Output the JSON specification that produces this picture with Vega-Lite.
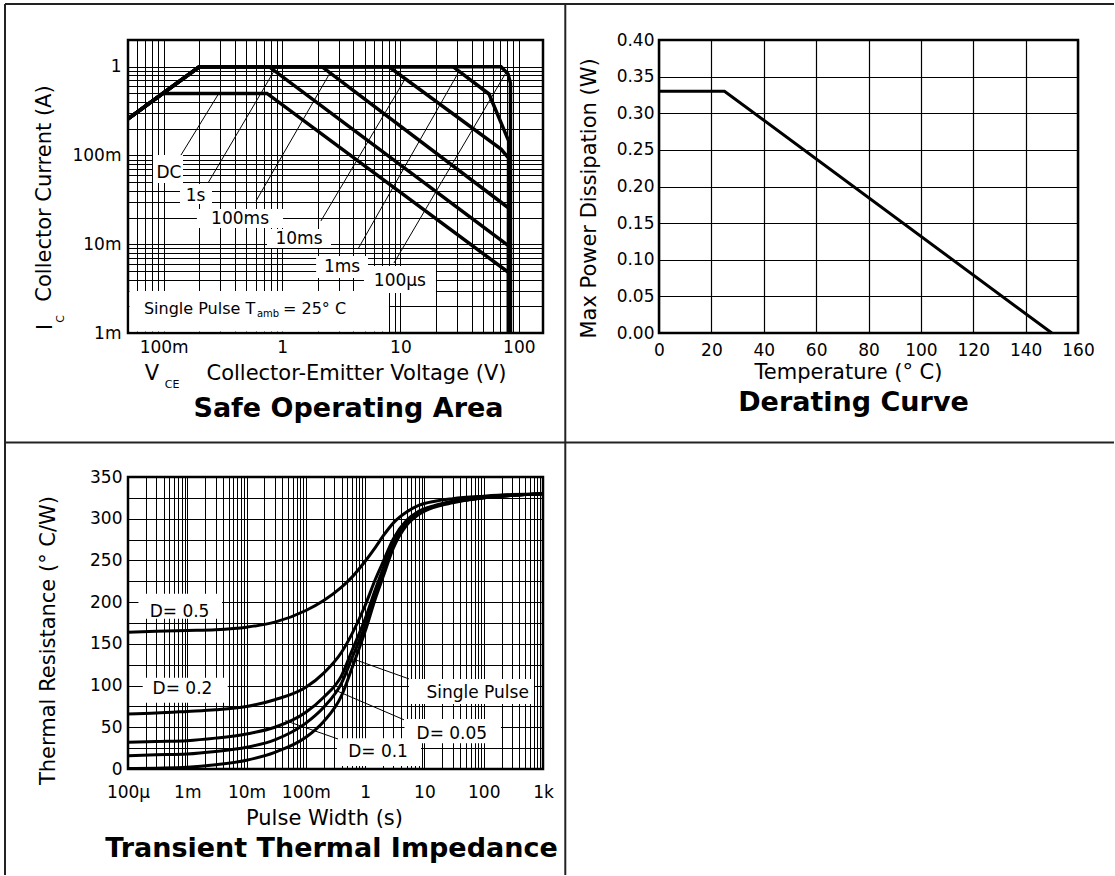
{
  "$schema": "https://vega.github.io/schema/vega-lite/v6.json",
  "background": "white",
  "padding": {"left": 2, "top": 1, "right": 0, "bottom": 0},
  "autosize": {"type": "pad"},
  "bounds": "flush",
  "columns": 2,
  "spacing": {"row": 144, "column": 116},
  "config": {
    "view": {"stroke": "black", "strokeWidth": 2.5},
    "font": "DejaVu Sans",
    "axis": {
      "ticks": false, "tickSize": 0, "domain": false, "grid": true,
      "gridColor": "black", "gridOpacity": 1, "gridWidth": 1,
      "labelFont": "DejaVu Sans", "labelFontSize": 17, "labelColor": "black",
      "titleFont": "DejaVu Sans", "titleFontSize": 21, "titleFontWeight": "normal", "titleColor": "black",
      "labelOverlap": false, "labelFlush": false, "labelBound": false
    },
    "title": {"font": "DejaVu Sans", "fontSize": 27, "fontWeight": "bold", "color": "black", "orient": "bottom"},
    "text": {"font": "DejaVu Sans", "color": "black"}
  },
  "datasets": {
    "soa": [
      {"curve": "DC", "k": 0, "x": 0.05, "y": 0.258},
      {"curve": "DC", "k": 1, "x": 0.098, "y": 0.5},
      {"curve": "DC", "k": 2, "x": 0.746, "y": 0.5},
      {"curve": "DC", "k": 3, "x": 82, "y": 0.0048},
      {"curve": "DC", "k": 4, "x": 82, "y": 0.001},
      {"curve": "1s", "k": 0, "x": 0.05, "y": 0.258},
      {"curve": "1s", "k": 1, "x": 0.2, "y": 1},
      {"curve": "1s", "k": 2, "x": 0.776, "y": 1},
      {"curve": "1s", "k": 3, "x": 82, "y": 0.0096},
      {"curve": "1s", "k": 4, "x": 82, "y": 0.001},
      {"curve": "100ms", "k": 0, "x": 0.05, "y": 0.258},
      {"curve": "100ms", "k": 1, "x": 0.2, "y": 1},
      {"curve": "100ms", "k": 2, "x": 2.17, "y": 1},
      {"curve": "100ms", "k": 3, "x": 82, "y": 0.0256},
      {"curve": "100ms", "k": 4, "x": 82, "y": 0.001},
      {"curve": "10ms", "k": 0, "x": 0.05, "y": 0.258},
      {"curve": "10ms", "k": 1, "x": 0.2, "y": 1},
      {"curve": "10ms", "k": 2, "x": 8.0, "y": 1},
      {"curve": "10ms", "k": 3, "x": 70.7, "y": 0.118},
      {"curve": "10ms", "k": 4, "x": 82, "y": 0.0937},
      {"curve": "10ms", "k": 5, "x": 82, "y": 0.001},
      {"curve": "1ms", "k": 0, "x": 0.05, "y": 0.258},
      {"curve": "1ms", "k": 1, "x": 0.2, "y": 1},
      {"curve": "1ms", "k": 2, "x": 27.8, "y": 1},
      {"curve": "1ms", "k": 3, "x": 56, "y": 0.493},
      {"curve": "1ms", "k": 4, "x": 82, "y": 0.146},
      {"curve": "1ms", "k": 5, "x": 82, "y": 0.001},
      {"curve": "100us", "k": 0, "x": 0.05, "y": 0.258},
      {"curve": "100us", "k": 1, "x": 0.2, "y": 1},
      {"curve": "100us", "k": 2, "x": 70.7, "y": 1},
      {"curve": "100us", "k": 3, "x": 81, "y": 0.83},
      {"curve": "100us", "k": 4, "x": 85, "y": 0.65},
      {"curve": "100us", "k": 5, "x": 85, "y": 0.001}
    ],
    "soaLeaders": [
      {"x": 0.14, "y": 0.101, "x2": 0.294, "y2": 0.506},
      {"x": 0.237, "y": 0.049, "x2": 0.85, "y2": 0.88},
      {"x": 0.603, "y": 0.0307, "x2": 2.54, "y2": 0.85},
      {"x": 2.13, "y": 0.0183, "x2": 10.9, "y2": 0.72},
      {"x": 4.38, "y": 0.00884, "x2": 31, "y2": 0.87},
      {"x": 8.82, "y": 0.00615, "x2": 78, "y2": 0.86}
    ],
    "soaBoxes": [
      {"x": 0.0813, "x2": 0.1457, "y": 0.049, "y2": 0.101},
      {"x": 0.1375, "x2": 0.256, "y": 0.0284, "y2": 0.0477},
      {"x": 0.191, "x2": 1.02, "y": 0.0152, "y2": 0.0249},
      {"x": 0.746, "x2": 2.59, "y": 0.00908, "y2": 0.01485},
      {"x": 1.94, "x2": 5.32, "y": 0.00417, "y2": 0.00737},
      {"x": 4.92, "x2": 19.95, "y": 0.00282, "y2": 0.00569},
      {"x": 0.0515, "x2": 8.0, "y": 0.00104, "y2": 0.00297}
    ],
    "soaLabels": [
      {"x": 0.111, "y": 0.0635, "label": "DC"},
      {"x": 0.186, "y": 0.035, "label": "1s"},
      {"x": 0.442, "y": 0.0192, "label": "100ms"},
      {"x": 1.39, "y": 0.01146, "label": "10ms"},
      {"x": 3.21, "y": 0.00555, "label": "1ms"},
      {"x": 9.9, "y": 0.00385, "label": "100µs"}
    ],
    "soaNote": [
      {"x": 0.0682, "y": 0.00186, "label": "Single Pulse T"},
      {"x": 1.019, "y": 0.00186, "label": "= 25° C"}
    ],
    "soaNoteSub": [
      {"x": 0.614, "y": 0.00163, "label": "amb"}
    ],
    "soaTitleY": [
      {"x": 0.01015, "y": 0.001168, "label": "I"}
    ],
    "soaSubY": [
      {"x": 0.01358, "y": 0.001438, "label": "C"}
    ],
    "soaTitleX": [
      {"x": 0.0797, "y": 0.0003496, "label": "V"}
    ],
    "soaSubX": [
      {"x": 0.1177, "y": 0.0002595, "label": "CE"}
    ],
    "frame": [
      {"x": 8.42e-7, "x2": 4.278e12, "y": 916.95, "y2": 916.95},
      {"x": 8.42e-7, "x2": 4.278e12, "y": 391.35, "y2": 391.35},
      {"x": 8.42e-7, "x2": 8.42e-7, "y": 916.95, "y2": -127.05},
      {"x": 2377, "x2": 2377, "y": 916.95, "y2": -127.05}
    ],
    "derating": [
      {"x": 0, "y": 0.33},
      {"x": 25, "y": 0.33},
      {"x": 150, "y": 0}
    ],
    "trans": [
      {"curve": "Single Pulse", "x": 0.0001, "y": 0.5},
      {"curve": "Single Pulse", "x": 0.0003, "y": 1},
      {"curve": "Single Pulse", "x": 0.001, "y": 2},
      {"curve": "Single Pulse", "x": 0.003, "y": 5},
      {"curve": "Single Pulse", "x": 0.01, "y": 10.5},
      {"curve": "Single Pulse", "x": 0.03, "y": 20},
      {"curve": "Single Pulse", "x": 0.1, "y": 38},
      {"curve": "Single Pulse", "x": 0.2, "y": 57},
      {"curve": "Single Pulse", "x": 0.4, "y": 88},
      {"curve": "Single Pulse", "x": 0.6, "y": 121},
      {"curve": "Single Pulse", "x": 1, "y": 165},
      {"curve": "Single Pulse", "x": 1.5, "y": 205},
      {"curve": "Single Pulse", "x": 2, "y": 230},
      {"curve": "Single Pulse", "x": 3, "y": 265},
      {"curve": "Single Pulse", "x": 5, "y": 292},
      {"curve": "Single Pulse", "x": 8, "y": 305},
      {"curve": "Single Pulse", "x": 15, "y": 314},
      {"curve": "Single Pulse", "x": 30, "y": 319},
      {"curve": "Single Pulse", "x": 100, "y": 325},
      {"curve": "Single Pulse", "x": 300, "y": 328},
      {"curve": "Single Pulse", "x": 1000, "y": 330},
      {"curve": "D=0.05", "x": 0.0001, "y": 16},
      {"curve": "D=0.05", "x": 0.0003, "y": 17},
      {"curve": "D=0.05", "x": 0.001, "y": 18},
      {"curve": "D=0.05", "x": 0.003, "y": 21},
      {"curve": "D=0.05", "x": 0.01, "y": 26},
      {"curve": "D=0.05", "x": 0.03, "y": 35},
      {"curve": "D=0.05", "x": 0.1, "y": 55},
      {"curve": "D=0.05", "x": 0.2, "y": 74},
      {"curve": "D=0.05", "x": 0.4, "y": 103},
      {"curve": "D=0.05", "x": 0.6, "y": 133},
      {"curve": "D=0.05", "x": 1, "y": 172},
      {"curve": "D=0.05", "x": 1.5, "y": 210},
      {"curve": "D=0.05", "x": 2, "y": 235},
      {"curve": "D=0.05", "x": 3, "y": 268},
      {"curve": "D=0.05", "x": 5, "y": 294},
      {"curve": "D=0.05", "x": 8, "y": 306},
      {"curve": "D=0.05", "x": 15, "y": 315},
      {"curve": "D=0.05", "x": 30, "y": 320},
      {"curve": "D=0.05", "x": 100, "y": 325},
      {"curve": "D=0.05", "x": 300, "y": 328},
      {"curve": "D=0.05", "x": 1000, "y": 330},
      {"curve": "D=0.1", "x": 0.0001, "y": 32},
      {"curve": "D=0.1", "x": 0.0003, "y": 33},
      {"curve": "D=0.1", "x": 0.001, "y": 34},
      {"curve": "D=0.1", "x": 0.003, "y": 37},
      {"curve": "D=0.1", "x": 0.01, "y": 42},
      {"curve": "D=0.1", "x": 0.03, "y": 50},
      {"curve": "D=0.1", "x": 0.1, "y": 68},
      {"curve": "D=0.1", "x": 0.2, "y": 86},
      {"curve": "D=0.1", "x": 0.4, "y": 112},
      {"curve": "D=0.1", "x": 0.6, "y": 142},
      {"curve": "D=0.1", "x": 1, "y": 180},
      {"curve": "D=0.1", "x": 1.5, "y": 216},
      {"curve": "D=0.1", "x": 2, "y": 240},
      {"curve": "D=0.1", "x": 3, "y": 272},
      {"curve": "D=0.1", "x": 5, "y": 296},
      {"curve": "D=0.1", "x": 8, "y": 307},
      {"curve": "D=0.1", "x": 15, "y": 315},
      {"curve": "D=0.1", "x": 30, "y": 320},
      {"curve": "D=0.1", "x": 100, "y": 325},
      {"curve": "D=0.1", "x": 300, "y": 328},
      {"curve": "D=0.1", "x": 1000, "y": 330},
      {"curve": "D=0.2", "x": 0.0001, "y": 66},
      {"curve": "D=0.2", "x": 0.0003, "y": 67},
      {"curve": "D=0.2", "x": 0.001, "y": 69},
      {"curve": "D=0.2", "x": 0.003, "y": 71},
      {"curve": "D=0.2", "x": 0.01, "y": 75},
      {"curve": "D=0.2", "x": 0.03, "y": 83},
      {"curve": "D=0.2", "x": 0.1, "y": 98},
      {"curve": "D=0.2", "x": 0.2, "y": 115},
      {"curve": "D=0.2", "x": 0.4, "y": 140},
      {"curve": "D=0.2", "x": 0.6, "y": 162},
      {"curve": "D=0.2", "x": 1, "y": 196},
      {"curve": "D=0.2", "x": 1.5, "y": 228},
      {"curve": "D=0.2", "x": 2, "y": 248},
      {"curve": "D=0.2", "x": 3, "y": 276},
      {"curve": "D=0.2", "x": 5, "y": 298},
      {"curve": "D=0.2", "x": 8, "y": 309},
      {"curve": "D=0.2", "x": 15, "y": 316},
      {"curve": "D=0.2", "x": 30, "y": 321},
      {"curve": "D=0.2", "x": 100, "y": 326},
      {"curve": "D=0.2", "x": 300, "y": 328},
      {"curve": "D=0.2", "x": 1000, "y": 330},
      {"curve": "D=0.5", "x": 0.0001, "y": 164},
      {"curve": "D=0.5", "x": 0.0003, "y": 165},
      {"curve": "D=0.5", "x": 0.001, "y": 166},
      {"curve": "D=0.5", "x": 0.003, "y": 167},
      {"curve": "D=0.5", "x": 0.01, "y": 170},
      {"curve": "D=0.5", "x": 0.03, "y": 176},
      {"curve": "D=0.5", "x": 0.1, "y": 190},
      {"curve": "D=0.5", "x": 0.2, "y": 202},
      {"curve": "D=0.5", "x": 0.4, "y": 218},
      {"curve": "D=0.5", "x": 0.6, "y": 230},
      {"curve": "D=0.5", "x": 1, "y": 249},
      {"curve": "D=0.5", "x": 1.5, "y": 266},
      {"curve": "D=0.5", "x": 2, "y": 279},
      {"curve": "D=0.5", "x": 3, "y": 295},
      {"curve": "D=0.5", "x": 5, "y": 308},
      {"curve": "D=0.5", "x": 8, "y": 316},
      {"curve": "D=0.5", "x": 15, "y": 321},
      {"curve": "D=0.5", "x": 30, "y": 324},
      {"curve": "D=0.5", "x": 100, "y": 327},
      {"curve": "D=0.5", "x": 300, "y": 329},
      {"curve": "D=0.5", "x": 1000, "y": 330}
    ],
    "transBoxes": [
      {"x": 0.00015, "x2": 0.00385, "y": 180, "y2": 210},
      {"x": 0.000177, "x2": 0.00481, "y": 79.5, "y2": 109.5},
      {"x": 5.49, "x2": 704, "y": 78, "y2": 108},
      {"x": 4.61, "x2": 195, "y": 31, "y2": 60},
      {"x": 0.335, "x2": 8.75, "y": 3.6, "y2": 37}
    ],
    "transLeaders": [
      {"x": 0.62, "y": 132, "x2": 5.49, "y2": 108},
      {"x": 0.3, "y": 95, "x2": 4.52, "y2": 59},
      {"x": 0.045, "y": 58, "x2": 0.348, "y2": 36}
    ],
    "transLabels": [
      {"x": 0.00074, "y": 188, "label": "D= 0.5"},
      {"x": 0.00083, "y": 96, "label": "D= 0.2"},
      {"x": 79, "y": 91.5, "label": "Single Pulse"},
      {"x": 29, "y": 41.5, "label": "D= 0.05"},
      {"x": 1.65, "y": 20.4, "label": "D= 0.1"}
    ]
  },
  "concat": [
    {
      "width": 415,
      "height": 293,
      "title": {"text": "Safe Operating Area", "dx": 13, "offset": 6},
      "encoding": {
        "x": {
          "field": "x", "type": "quantitative",
          "scale": {"type": "log", "domain": [0.05, 160], "nice": false},
          "axis": {
            "values": [0.05, 0.06, 0.07, 0.08, 0.09, 0.1, 0.2, 0.3, 0.4, 0.5, 0.6, 0.7, 0.8, 0.9, 1, 2, 3, 4, 5, 6, 7, 8, 9, 10, 20, 30, 40, 50, 60, 70, 80, 90, 100],
            "labelExpr": "datum.value === 0.1 ? '100m' : datum.value === 1 ? '1' : datum.value === 10 ? '10' : datum.value === 100 ? '100' : ''",
            "labelPadding": 6,
            "title": "Collector-Emitter Voltage (V)",
            "titlePadding": 7,
            "titleX": 228
          }
        },
        "y": {
          "field": "y", "type": "quantitative",
          "scale": {"type": "log", "domain": [0.001, 2], "nice": false},
          "axis": {
            "values": [0.001, 0.002, 0.003, 0.004, 0.005, 0.006, 0.007, 0.008, 0.009, 0.01, 0.02, 0.03, 0.04, 0.05, 0.06, 0.07, 0.08, 0.09, 0.1, 0.2, 0.3, 0.4, 0.5, 0.6, 0.7, 0.8, 0.9, 1, 2],
            "labelExpr": "datum.value === 0.001 ? '1m' : datum.value === 0.01 ? '10m' : datum.value === 0.1 ? '100m' : datum.value === 1 ? '1' : ''",
            "labelPadding": 7,
            "title": "Collector Current (A)",
            "titlePadding": 17,
            "titleY": 153
          }
        }
      },
      "layer": [
        {"data": {"name": "soaBoxes"}, "mark": {"type": "rect", "fill": "white", "strokeWidth": 0, "clip": true}, "encoding": {"x2": {"field": "x2"}, "y2": {"field": "y2"}}},
        {"data": {"name": "soaLeaders"}, "mark": {"type": "rule", "color": "black", "strokeWidth": 1}, "encoding": {"x2": {"field": "x2"}, "y2": {"field": "y2"}}},
        {"data": {"name": "soa"}, "mark": {"type": "line", "color": "black", "strokeWidth": 3.5, "clip": true}, "encoding": {"detail": {"field": "curve"}, "order": {"field": "k", "type": "quantitative"}}},
        {"data": {"name": "soaLabels"}, "mark": {"type": "text", "fontSize": 17, "align": "center", "baseline": "middle"}, "encoding": {"text": {"field": "label"}}},
        {"data": {"name": "soaNote"}, "mark": {"type": "text", "fontSize": 16, "align": "left", "baseline": "middle"}, "encoding": {"text": {"field": "label"}}},
        {"data": {"name": "soaNoteSub"}, "mark": {"type": "text", "fontSize": 10, "align": "left", "baseline": "middle"}, "encoding": {"text": {"field": "label"}}},
        {"data": {"name": "soaTitleY"}, "mark": {"type": "text", "fontSize": 21, "align": "center", "baseline": "middle", "angle": 270, "clip": false}, "encoding": {"text": {"field": "label"}}},
        {"data": {"name": "soaSubY"}, "mark": {"type": "text", "fontSize": 11, "align": "center", "baseline": "middle", "angle": 270, "clip": false}, "encoding": {"text": {"field": "label"}}},
        {"data": {"name": "soaTitleX"}, "mark": {"type": "text", "fontSize": 21, "align": "center", "baseline": "middle", "clip": false}, "encoding": {"text": {"field": "label"}}},
        {"data": {"name": "soaSubX"}, "mark": {"type": "text", "fontSize": 11, "align": "center", "baseline": "middle", "clip": false}, "encoding": {"text": {"field": "label"}}}
      ]
    },
    {
      "width": 419,
      "height": 293,
      "title": {"text": "Derating Curve", "dx": -15, "offset": 8},
      "data": {"name": "derating"},
      "mark": {"type": "line", "color": "black", "strokeWidth": 3},
      "encoding": {
        "x": {
          "field": "x", "type": "quantitative",
          "scale": {"domain": [0, 160], "nice": false, "zero": false},
          "axis": {
            "values": [0, 20, 40, 60, 80, 100, 120, 140, 160],
            "labelPadding": 9,
            "title": "Temperature (° C)",
            "titlePadding": 3,
            "titleX": 189,
            "gridWidth": 1.2
          }
        },
        "y": {
          "field": "y", "type": "quantitative",
          "scale": {"domain": [0, 0.4], "nice": false},
          "axis": {
            "values": [0, 0.05, 0.1, 0.15, 0.2, 0.25, 0.3, 0.35, 0.4],
            "format": ".2f",
            "labelPadding": 5,
            "title": "Max Power Dissipation (W)",
            "titlePadding": 17,
            "titleY": 158,
            "gridWidth": 1.2
          }
        }
      }
    },
    {
      "width": 415,
      "height": 292,
      "title": {"text": "Transient Thermal Impedance", "dx": -4, "offset": -40},
      "encoding": {
        "x": {
          "field": "x", "type": "quantitative",
          "scale": {"type": "log", "domain": [0.0001, 1000], "nice": false},
          "axis": {
            "values": [0.0001, 0.0002, 0.0003, 0.0004, 0.0005, 0.0006, 0.0007, 0.0008, 0.0009, 0.001, 0.002, 0.003, 0.004, 0.005, 0.006, 0.007, 0.008, 0.009, 0.01, 0.02, 0.03, 0.04, 0.05, 0.06, 0.07, 0.08, 0.09, 0.1, 0.2, 0.3, 0.4, 0.5, 0.6, 0.7, 0.8, 0.9, 1, 2, 3, 4, 5, 6, 7, 8, 9, 10, 20, 30, 40, 50, 60, 70, 80, 90, 100, 200, 300, 400, 500, 600, 700, 800, 900, 1000],
            "labelExpr": "datum.value === 0.0001 ? '100µ' : datum.value === 0.001 ? '1m' : datum.value === 0.01 ? '10m' : datum.value === 0.1 ? '100m' : datum.value === 1 ? '1' : datum.value === 10 ? '10' : datum.value === 100 ? '100' : datum.value === 1000 ? '1k' : ''",
            "labelPadding": 15,
            "title": "Pulse Width (s)",
            "titlePadding": 7,
            "titleX": 196
          }
        },
        "y": {
          "field": "y", "type": "quantitative",
          "scale": {"domain": [0, 350], "nice": false},
          "axis": {
            "values": [0, 25, 50, 75, 100, 125, 150, 175, 200, 225, 250, 275, 300, 325, 350],
            "labelExpr": "datum.value % 50 === 0 ? datum.label : ''",
            "labelPadding": 6,
            "title": "Thermal Resistance (° C/W)",
            "titlePadding": 31,
            "titleY": 163
          }
        }
      },
      "layer": [
        {"data": {"name": "transBoxes"}, "mark": {"type": "rect", "fill": "white", "strokeWidth": 0, "clip": true}, "encoding": {"x2": {"field": "x2"}, "y2": {"field": "y2"}}},
        {"data": {"name": "transLeaders"}, "mark": {"type": "rule", "color": "black", "strokeWidth": 1}, "encoding": {"x2": {"field": "x2"}, "y2": {"field": "y2"}}},
        {"data": {"name": "trans"}, "mark": {"type": "line", "color": "black", "strokeWidth": 3, "interpolate": "monotone", "clip": true}, "encoding": {"detail": {"field": "curve"}}},
        {"data": {"name": "transLabels"}, "mark": {"type": "text", "fontSize": 17, "align": "center", "baseline": "middle"}, "encoding": {"text": {"field": "label"}}},
        {"data": {"name": "frame"}, "mark": {"type": "rule", "color": "#222222", "strokeWidth": 2, "clip": false}, "encoding": {"x2": {"field": "x2"}, "y2": {"field": "y2"}}}
      ]
    }
  ]
}
